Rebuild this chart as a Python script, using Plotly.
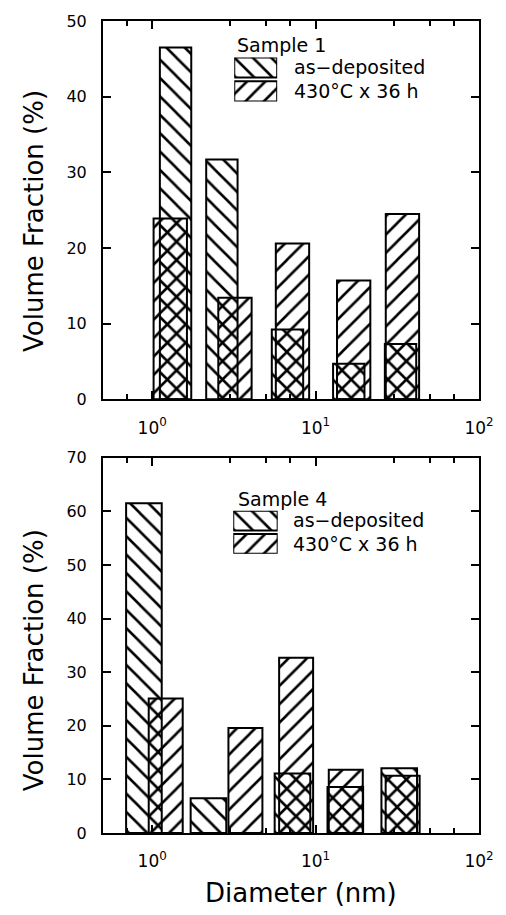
import numpy as np
import plotly.graph_objects as go

# ---- data: volume fraction (%) per diameter class (nm) ----
# Sample 1
s1_asdep_diam = [1.39, 2.67, 6.73, 15.96, 33.1]
s1_asdep_frac = [46.5, 31.7, 9.2, 4.7, 7.3]
s1_ann_diam = [1.29, 3.21, 7.22, 17.1, 34.0]
s1_ann_frac = [23.9, 13.4, 20.6, 15.7, 24.5]
# Sample 4
s4_asdep_diam = [0.89, 2.21, 7.22, 15.2, 32.5]
s4_asdep_frac = [61.5, 6.5, 11.1, 8.6, 12.1]
s4_ann_diam = [1.21, 3.72, 7.60, 15.3, 34.1]
s4_ann_frac = [25.1, 19.6, 32.7, 11.8, 10.7]

series_names = ["as\u2212deposited", "430\u00b0C x 36 h"]
sample_names = ["Sample 1", "Sample 4"]
x_tick_vals = [1, 10, 100]
x_tick_text = ["10<sup>0</sup>", "10<sup>1</sup>", "10<sup>2</sup>"]
x_minor_vals = [0.7, 3, 5, 7, 30, 50, 70]
y_max = [50, 70]

# ---- page geometry ----
W, H = 506, 915
M = dict(l=103, r=22, t=15, b=82)
PW = W - M["l"] - M["r"]
PH = H - M["t"] - M["b"]


def fx(px):
    return (px - M["l"]) / PW


def fy(py):
    return (H - M["b"] - py) / PH


FONT = "DejaVu Sans"
HATCH = dict(size=13, solidity=0.2, fgcolor="black", bgcolor="rgba(0,0,0,0)",
             fillmode="replace")
SHAPES = ["\\", "/"]


def log_bar(diam, frac, half_dec, shape, xa, ya):
    """Bar centred (in log space) on each diameter, half_dec decades wide each side."""
    d = np.asarray(diam, float)
    lo = d * 10 ** (-half_dec)
    hi = d * 10 ** half_dec
    return go.Bar(
        x=d, y=frac, offset=lo - d, width=hi - lo,
        marker=dict(color="rgba(0,0,0,0)", line=dict(color="black", width=2),
                    pattern=dict(shape=shape, **HATCH)),
        xaxis=xa, yaxis=ya, showlegend=False, hoverinfo="x+y",
    )


fig = go.Figure()
fig.add_trace(log_bar(s1_asdep_diam, s1_asdep_frac, 0.096, SHAPES[0], "x", "y"))
fig.add_trace(log_bar(s1_ann_diam, s1_ann_frac, 0.102, SHAPES[1], "x", "y"))
fig.add_trace(log_bar(s4_asdep_diam, s4_asdep_frac, 0.109, SHAPES[0], "x2", "y2"))
fig.add_trace(log_bar(s4_ann_diam, s4_ann_frac, 0.104, SHAPES[1], "x2", "y2"))

# legend keys: hatched swatches on small helper axes
for xa, ya in [("x3", "y3"), ("x4", "y4")]:
    for k, shape in enumerate(SHAPES):
        fig.add_trace(go.Bar(
            x=[0], y=[1], base=[1.18 * (1 - k)], width=[1],
            marker=dict(color="rgba(0,0,0,0)", line=dict(color="black", width=2),
                        pattern=dict(shape=shape, **HATCH)),
            xaxis=xa, yaxis=ya, showlegend=False, hoverinfo="skip", cliponaxis=False,
        ))

xcommon = dict(
    type="log", range=[np.log10(0.5), 2],
    tickmode="array", tickvals=x_tick_vals, ticktext=x_tick_text,
    ticks="inside", ticklen=8, tickwidth=1.5, tickcolor="black",
    minor=dict(tickmode="array", tickvals=x_minor_vals, ticks="inside", ticklen=5,
               tickwidth=1.5, tickcolor="black", showgrid=False),
    showline=True, linecolor="black", linewidth=2, mirror="ticks",
    showgrid=False, zeroline=False,
    tickfont=dict(family=FONT, size=17, color="black"), ticklabelstandoff=12,
)
ycommon = dict(
    dtick=10, ticks="inside", ticklen=8, tickwidth=1.5, tickcolor="black",
    showline=True, linecolor="black", linewidth=2, mirror="ticks",
    showgrid=False, zeroline=False,
    tickfont=dict(family=FONT, size=16, color="black"), ticklabelstandoff=11,
)
hidden = dict(visible=False, fixedrange=True)

fig.update_layout(
    width=W, height=H, margin=M, paper_bgcolor="white", plot_bgcolor="white",
    barmode="overlay", showlegend=False,
    xaxis=dict(anchor="y", domain=[0, 1], **xcommon),
    yaxis=dict(anchor="x", domain=[fy(396), 1], range=[0, y_max[0]], **ycommon),
    xaxis2=dict(anchor="y2", domain=[0, 1], **xcommon),
    yaxis2=dict(anchor="x2", domain=[0, fy(455)], range=[0, y_max[1]], **ycommon),
    xaxis3=dict(anchor="y3", domain=[fx(236), fx(279.5)], range=[-0.5, 0.5], **hidden),
    yaxis3=dict(anchor="x3", domain=[fy(96), fy(51.7)], range=[0, 2.18], **hidden),
    xaxis4=dict(anchor="y4", domain=[fx(235), fx(280)], range=[-0.5, 0.5], **hidden),
    yaxis4=dict(anchor="x4", domain=[fy(551.7), fy(508.3)], range=[0, 2.18], **hidden),
)

ann = []
# y-axis titles
for yc in (216.5, 659):
    ann.append(dict(text="Volume Fraction (%)", textangle=-90, xref="paper", yref="paper",
                    x=fx(33), y=fy(yc), xanchor="center", yanchor="middle", showarrow=False,
                    font=dict(family=FONT, size=26, color="black")))
# x-axis title
ann.append(dict(text="Diameter (nm)", xref="paper", yref="paper", x=fx(303.3), y=fy(893),
                xanchor="center", yanchor="middle", showarrow=False,
                font=dict(family=FONT, size=26, color="black")))
# legend text
legend_rows = [
    (236.7, 39.5, 295, 61.7, 85.5),
    (237.3, 497.0, 294, 517.5, 541.7),
]
for name, (sx, sy, tx, ty1, ty2) in zip(sample_names, legend_rows):
    ann.append(dict(text=name, xref="paper", yref="paper", x=fx(sx), y=fy(sy),
                    xanchor="left", yanchor="middle", showarrow=False,
                    font=dict(family=FONT, size=19, color="black")))
    for label, ty in zip(series_names, (ty1, ty2)):
        ann.append(dict(text=label, xref="paper", yref="paper", x=fx(tx), y=fy(ty),
                        xanchor="left", yanchor="middle", showarrow=False,
                        font=dict(family=FONT, size=19, color="black")))
fig.update_layout(annotations=ann)

fig.write_html("out.html")
